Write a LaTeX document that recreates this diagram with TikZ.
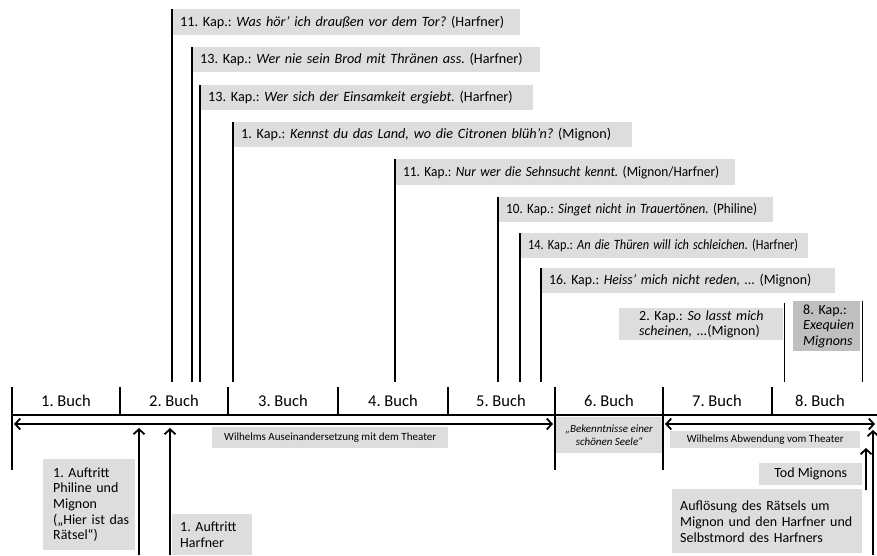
\documentclass[tikz,border=0pt]{standalone}
\usepackage{fontspec}
\usepackage{graphicx}
\setmainfont{Carlito}
\usetikzlibrary{arrows.meta}
\definecolor{boxgray}{RGB}{221,221,221}
\definecolor{darkboxgray}{RGB}{191,191,191}
\frenchspacing
% one unbroken line of box text
\newcommand{\oneline}[1]{\mbox{#1}}
% one line of text, narrowed if it would run past the given width
\newsavebox{\fitbox}
\newcommand{\fitline}[2]{\sbox{\fitbox}{#2}%
  \ifdim\wd\fitbox>#1\relax\resizebox{#1}{\height}{\usebox{\fitbox}}\else\usebox{\fitbox}\fi}
\begin{document}
\begin{tikzpicture}[x=1pt,y=-1pt,
  base/.style={inner ysep=0pt, anchor=north west},
  kap/.style={base, fill=boxgray, inner xsep=8pt, align=left,
    font=\fontsize{14.2}{17}\selectfont},
  note/.style={base, fill=boxgray, inner xsep=2pt, align=center,
    font=\fontsize{11}{13}\selectfont},
  story/.style={base, fill=boxgray, align=left,
    font=\fontsize{14}{15.6}\selectfont},
  bookname/.style={font=\fontsize{16.5}{19}\selectfont, inner sep=0pt},
  stem/.style={line width=1.8pt},
  axis/.style={line width=1.8pt},
  span/.style={line width=1.8pt, {Straight Barb[length=5pt,width=11pt]}-{Straight Barb[length=5pt,width=11pt]}},
  pointer/.style={line width=1.8pt, -{Straight Barb[length=5pt,width=11pt]}}
]
\useasboundingbox (0,0) rectangle (877,555);

% ---- song boxes above the time line ----
\node[kap, text width=332pt, minimum height=26pt] (k1) at (172,9)
  {\fitline{328pt}{11. Kap.: \textit{Was hör’ ich draußen vor dem Tor?} (Harfner)}};
\node[kap, text width=332pt, minimum height=25pt] (k2) at (192,47)
  {\fitline{326pt}{13. Kap.: \textit{Wer nie sein Brod mit Thränen ass.} (Harfner)}};
\node[kap, text width=317pt, minimum height=25pt] (k3) at (200,85)
  {\fitline{311pt}{13. Kap.: \textit{Wer sich der Einsamkeit ergiebt.} (Harfner)}};
\node[kap, text width=383pt, minimum height=25pt] (k4) at (233,122)
  {\fitline{370pt}{1. Kap.: \textit{Kennst du das Land, wo die Citronen blüh’n?} (Mignon)}};
\node[kap, text width=324pt, minimum height=26pt] (k5) at (395,159)
  {\fitline{316pt}{11. Kap.: \textit{Nur wer die Sehnsucht kennt.} (Mignon/Harfner)}};
\node[kap, text width=259pt, minimum height=25pt] (k6) at (498,197)
  {\fitline{251pt}{10. Kap.: \textit{Singet nicht in Trauertönen.} (Philine)}};
\node[kap, text width=272pt, minimum height=25pt] (k7) at (520,233)
  {\fitline{270pt}{14. Kap.: \textit{An die Thüren will ich schleichen.} (Harfner)}};
\node[kap, text width=278pt, minimum height=25pt] (k8) at (541,268)
  {\fitline{262pt}{16. Kap.: \textit{Heiss’ mich nicht reden, ...} (Mignon)}};
\node[kap, inner xsep=20pt, text width=124pt, minimum height=32pt,
  font=\fontsize{14}{14.5}\selectfont] (k9) at (619,308)
  {\oneline{2. Kap.: \textit{So lasst mich}}\\\oneline{\textit{scheinen, ...}(Mignon)}};
\node[kap, fill=darkboxgray, inner xsep=10pt, text width=47pt, minimum height=50pt,
  font=\fontsize{14}{15.5}\selectfont] (k10) at (793,301)
  {8. Kap.:\\\textit{Exequien}\\\textit{Mignons}};

% stems from the songs down to the books
\coordinate (stemend) at (0,382);
\foreach \k in {k1,k2,k3,k4,k5,k6,k7,k8}
  \draw[stem] (\k.north west) -- (\k.north west |- stemend);
\draw[stem] ([shift={(1,-5)}]k9.north east) -- ([shift={(1,0)}]k9.north east |- stemend);
\draw[stem] ([shift={(2,0)}]k10.north east) -- ([shift={(2,0)}]k10.north east |- stemend);

% ---- the eight books ----
\coordinate (axisL) at (12,415);
\coordinate (axisR) at (877,415);
\draw[axis] (axisL) -- (axisR);
\foreach \i/\x in {0/12,1/120,2/228,3/338,4/448,5/555,6/663,7/772}
  \coordinate (sep\i) at (\x,387);
\foreach \i in {1,2,3,4,6}
  \draw[axis] (sep\i) -- (sep\i |- axisL);
\foreach \i in {0,5,6}
  \coordinate (low\i) at ([yshift=-55pt]sep\i |- axisL);
\draw[axis] (sep0) -- (low0);
\draw[axis] (sep5) -- (low5);
\draw[axis] (sep6) -- (low6);
\draw[axis] (sep7) -- (sep7 |- axisL);

\node[bookname] (b1) at (66,401) {1. Buch};
\node[bookname] (b2) at (174,401) {2. Buch};
\node[bookname] (b3) at (283,401) {3. Buch};
\node[bookname] (b4) at (393,401) {4. Buch};
\node[bookname] (b5) at (501,401) {5. Buch};
\node[bookname] (b6) at (609,401) {6. Buch};
\node[bookname] (b7) at (717,401) {7. Buch};
\node[bookname] (b8) at (820,401) {8. Buch};

% ---- phases ----
\node[note, minimum width=236pt, minimum height=21pt] (p1) at (212,427)
  {Wilhelms Auseinandersetzung mit dem Theater};
\node[note, minimum width=106pt, minimum height=36pt,
  font=\fontsize{11}{13.5}\selectfont\itshape] (p2) at (556,417)
  {„Bekenntnisse einer\\schönen Seele“};
\node[note, minimum width=190pt, minimum height=17pt] (p3) at (670,431)
  {Wilhelms Abwendung vom Theater};

\coordinate (span1L) at (14,424);
\coordinate (span1R) at (553,424);
\coordinate (span2L) at (665,424);
\coordinate (span2R) at (875,424);
\draw[span] (span1L) -- (span1R);
\draw[span] (span2L) -- (span2R);

% ---- events below the time line ----
\node[story, inner xsep=10pt, text width=72pt, minimum height=91pt] (e1) at (43,459)
  {1. Auftritt\\Philine und\\Mignon\\\oneline{(„Hier ist das}\\Rätsel“)};
\node[story, inner xsep=8pt, text width=64pt, minimum height=41pt] (e2) at (172,514)
  {1. Auftritt\\Harfner};
\node[story, inner xsep=2pt, align=center, minimum width=103pt, minimum height=22pt] (e3) at (759,463)
  {Tod Mignons};
\node[story, inner xsep=8pt, text width=174pt, minimum height=64pt,
  font=\fontsize{14}{16}\selectfont] (e4) at (672,489)
  {Auflösung des Rätsels um\\Mignon und den Harfner und\\Selbstmord des Harfners};

\coordinate (up1b) at (139,555);
\coordinate (up1t) at (139,428);
\coordinate (up2b) at (170,555);
\coordinate (up2t) at (170,428);
\coordinate (up3b) at (866,490);
\coordinate (up3t) at (866,448);
\coordinate (up4b) at (873,555);
\coordinate (up4t) at (873,430);
\draw[pointer] (up1b) -- (up1t);
\draw[pointer] (up2b) -- (up2t);
\draw[pointer] (up3b) -- (up3t);
\draw[pointer] (up4b) -- (up4t);
\end{tikzpicture}
\end{document}
